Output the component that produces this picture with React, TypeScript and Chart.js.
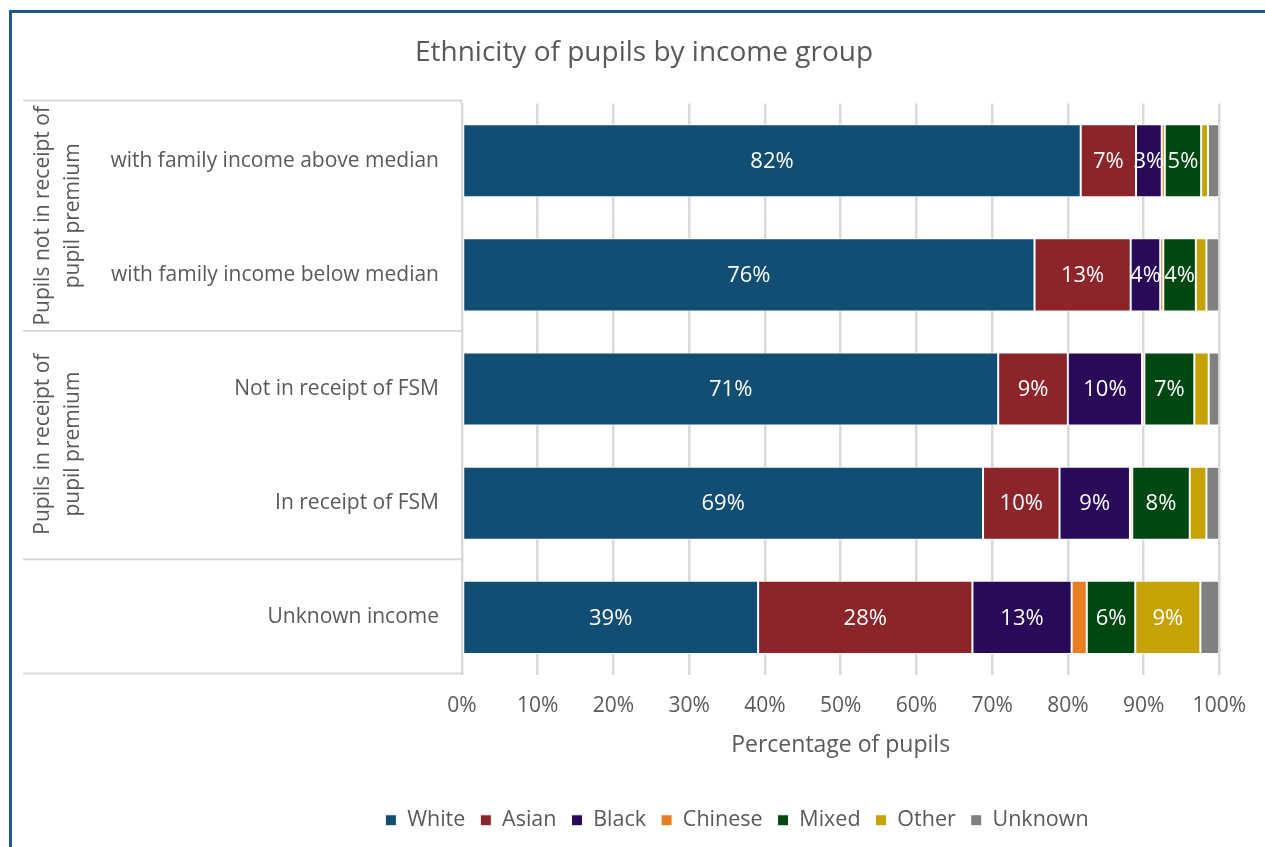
import React, { useEffect, useRef } from 'react';
import { Chart, registerables } from 'chart.js';

Chart.register(...registerables);

const categories = [
  'with family income above median',
  'with family income below median',
  'Not in receipt of FSM',
  'In receipt of FSM',
  'Unknown income',
];
const groupLabels = [
  ['Pupils not in receipt of', 'pupil premium'],
  ['Pupils in receipt of', 'pupil premium'],
  [],
];
const groupSpans = [2, 2, 1];

const seriesNames = ['White', 'Asian', 'Black', 'Chinese', 'Mixed', 'Other', 'Unknown'];
const seriesColors = ['#124E73', '#8B2529', '#280A59', '#E87E22', '#014712', '#C5A205', '#808080'];

const whiteValues = [81.7, 75.6, 70.8, 68.8, 39.1];
const asianValues = [7.3, 12.7, 9.2, 10.1, 28.3];
const blackValues = [3.4, 3.9, 9.8, 9.3, 13.1];
const chineseValues = [0.4, 0.4, 0.3, 0.3, 2.0];
const mixedValues = [4.8, 4.3, 6.6, 7.6, 6.4];
const otherValues = [0.9, 1.4, 1.9, 2.2, 8.6];
const unknownValues = [1.5, 1.7, 1.4, 1.7, 2.5];

const seriesValues = [whiteValues, asianValues, blackValues, chineseValues, mixedValues, otherValues, unknownValues];

const xTickValues = [0, 10, 20, 30, 40, 50, 60, 70, 80, 90, 100];

const chartTitle = 'Ethnicity of pupils by income group';
const xAxisTitle = 'Percentage of pupils';

const FONT = "'Open Sans', sans-serif";
const TEXT = '#595959';
const GRID = '#D9D9D9';

const framePlugin = {
  id: 'frame',
  beforeDraw(chart: any) {
    const ctx = chart.ctx;
    ctx.save();
    ctx.fillStyle = '#ffffff';
    ctx.fillRect(0, 0, chart.width, chart.height);
    ctx.fillStyle = '#1F5A86';
    ctx.fillRect(9, 10, 3, chart.height - 10);
    ctx.fillRect(9, 10, chart.width - 9, 3);
    ctx.restore();
  },
};

// Shift title and legend horizontally to match the original's off-centre placement
const placementPlugin = {
  id: 'placement',
  afterLayout(chart: any) {
    const lg = chart.legend;
    if (lg) {
      lg.left += 115;
      lg.right += 115;
    }
    const tb = chart.titleBlock;
    if (tb) {
      tb.left += 22;
      tb.right += 22;
    }
  },
};

const groupPlugin = {
  id: 'groups',
  afterDraw(chart: any) {
    const ctx = chart.ctx;
    const y = chart.scales.y;
    const n = categories.length;
    const band = (y.bottom - y.top) / n;
    ctx.save();
    ctx.strokeStyle = GRID;
    ctx.lineWidth = 2;
    let start = 0;
    const boundaries = [0];
    groupSpans.forEach((s) => {
      start += s;
      boundaries.push(start);
    });
    boundaries.forEach((b) => {
      const yy = b === 0 ? y.top - 3 : y.top + band * b - 1;
      ctx.beginPath();
      ctx.moveTo(23, yy);
      ctx.lineTo(y.right, yy);
      ctx.stroke();
    });
    ctx.beginPath();
    ctx.moveTo(y.right - 1, y.top - 3);
    ctx.lineTo(y.right - 1, y.top);
    ctx.stroke();
    ctx.fillStyle = TEXT;
    ctx.font = `21px ${FONT}`;
    ctx.textAlign = 'center';
    ctx.textBaseline = 'middle';
    start = 0;
    groupSpans.forEach((s, gi) => {
      const cy = y.top + band * (start + s / 2) - 2;
      const lines = groupLabels[gi];
      lines.forEach((line, li) => {
        const cx = 43 + li * 30;
        ctx.save();
        ctx.translate(cx, cy);
        ctx.rotate(-Math.PI / 2);
        ctx.fillText(line, 0, 0);
        ctx.restore();
      });
      start += s;
    });
    ctx.restore();
  },
};

const dataLabelPlugin = {
  id: 'dataLabels',
  afterDatasetsDraw(chart: any) {
    const ctx = chart.ctx;
    ctx.save();
    ctx.fillStyle = '#ffffff';
    ctx.font = `22px ${FONT}`;
    ctx.textAlign = 'center';
    ctx.textBaseline = 'middle';
    chart.data.datasets.forEach((ds: any, di: number) => {
      const meta = chart.getDatasetMeta(di);
      meta.data.forEach((bar: any, i: number) => {
        const v = ds.data[i];
        if (v < 3) return;
        const { x, y, base } = bar.getProps(['x', 'y', 'base'], true);
        ctx.fillText(`${Math.round(v)}%`, (x + base) / 2, y + 1);
      });
    });
    ctx.restore();
  },
};

export default function App() {
  const canvasRef = useRef<HTMLCanvasElement | null>(null);

  useEffect(() => {
    if (!canvasRef.current) return;
    Chart.defaults.font.family = FONT;
    Chart.defaults.color = TEXT;
    const chart = new Chart(canvasRef.current, {
      type: 'bar',
      data: {
        labels: categories,
        datasets: seriesNames.map((name, i) => ({
          label: name,
          data: seriesValues[i],
          backgroundColor: seriesColors[i],
          borderColor: '#ffffff',
          borderWidth: 1,
          borderSkipped: false,
          categoryPercentage: 1,
          barPercentage: 0.64,
        })),
      },
      options: {
        indexAxis: 'y',
        responsive: false,
        animation: false,
        layout: { padding: { left: 23, right: 44, top: 12, bottom: 6 } },
        scales: {
          x: {
            stacked: true,
            min: 0,
            max: 100,
            afterBuildTicks: (scale: any) => {
              scale.ticks = xTickValues.map((v) => ({ value: v }));
            },
            afterFit: (scale: any) => {
              scale.height = 120;
            },
            ticks: {
              callback: (v: any) => `${v}%`,
              font: { size: 21 },
              color: TEXT,
              padding: 19,
              maxRotation: 0,
            },
            grid: { color: GRID, lineWidth: 2.5, drawTicks: false },
            border: { display: false },
            title: {
              display: true,
              text: xAxisTitle,
              font: { size: 23 },
              color: TEXT,
              padding: { top: 0, bottom: 35 },
            },
          },
          y: {
            stacked: true,
            afterFit: (scale: any) => {
              scale.width = 439;
            },
            ticks: { font: { size: 21 }, color: TEXT, padding: 23 },
            grid: { display: false, drawTicks: false },
            border: { display: true, color: GRID, width: 2 },
          },
        },
        plugins: {
          title: {
            display: true,
            text: chartTitle,
            font: { size: 28, weight: 'normal' },
            color: TEXT,
            padding: { top: 24, bottom: 34 },
          },
          legend: {
            position: 'bottom',
            labels: {
              boxWidth: 11,
              boxHeight: 11,
              font: { size: 21.5 },
              color: TEXT,
              padding: 15,
            },
          },
          tooltip: { enabled: false },
        },
      },
      plugins: [framePlugin, placementPlugin, groupPlugin, dataLabelPlugin],
    } as any);
    return () => chart.destroy();
  }, []);

  return (
    <div style={{ position: 'absolute', left: 0, top: 0, width: 1265, height: 847 }}>
      <canvas ref={canvasRef} width={1265} height={847} style={{ width: 1265, height: 847 }} />
    </div>
  );
}
